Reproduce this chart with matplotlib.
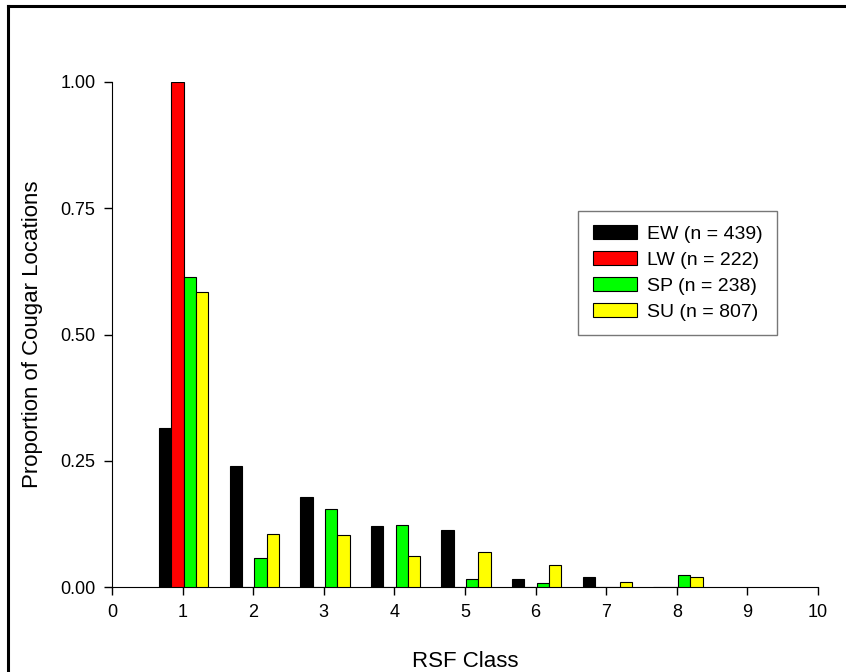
import numpy as np
import matplotlib
matplotlib.use('Agg')
import matplotlib.pyplot as plt
from matplotlib.lines import Line2D

plt.rcParams['font.family'] = ['Liberation Sans', 'DejaVu Sans']

rsf_class = [1, 2, 3, 4, 5, 6, 7, 8]
ew = [0.315, 0.239, 0.178, 0.120, 0.112, 0.015, 0.020, 0.0]
lw = [1.000, 0.0, 0.0, 0.0, 0.0, 0.0, 0.0, 0.0]
sp = [0.614, 0.058, 0.155, 0.122, 0.016, 0.008, 0.0, 0.024]
su = [0.584, 0.104, 0.102, 0.062, 0.069, 0.044, 0.009, 0.019]

series = [ew, lw, sp, su]
labels = ['EW (n = 439)', 'LW (n = 222)', 'SP (n = 238)', 'SU (n = 807)']
colors = ['#000000', '#ff0000', '#00ff00', '#ffff00']

fig = plt.figure(figsize=(8.46, 6.72), dpi=100)
ax = fig.add_axes([112/846, 1-587/672, 706/846, 505/672])

x = np.array(rsf_class, dtype=float)
w = 0.175
for i in range(4):
    ax.bar(x - 0.334 + i*w, series[i], width=w, align='edge', color=colors[i],
           edgecolor='black', linewidth=0.8, label=labels[i], zorder=3)

ax.set_xlim(0, 10)
ax.set_ylim(0, 1.0)
ax.set_xticks(range(0, 11))
ax.set_yticks([0, 0.25, 0.5, 0.75, 1.0])
ax.set_yticklabels(['0.00', '0.25', '0.50', '0.75', '1.00'])
ax.spines['top'].set_visible(False)
ax.spines['right'].set_visible(False)
ax.tick_params(direction='out', length=6, width=1, labelsize=13, pad=6)
ax.set_xlabel('RSF Class', fontsize=16, labelpad=22)
ax.set_ylabel('Proportion of Cougar Locations', fontsize=16, labelpad=12)

leg = ax.legend(loc='upper left', bbox_to_anchor=(0.660, 0.745), fontsize=14,
                frameon=True, fancybox=False, edgecolor='#555555',
                handlelength=2.3, handleheight=0.72, labelspacing=0.42,
                borderpad=0.75, handletextpad=0.5, borderaxespad=0)
leg.get_frame().set_linewidth(1.0)

# outer frame (partly cropped in the original)
fig.add_artist(Line2D([7.5/846, 1], [1-5.5/672, 1-5.5/672], color='black', lw=2.2))
fig.add_artist(Line2D([7.5/846, 7.5/846], [0, 1-5.5/672], color='black', lw=2.2))

fig.savefig('out.png', dpi=100)
